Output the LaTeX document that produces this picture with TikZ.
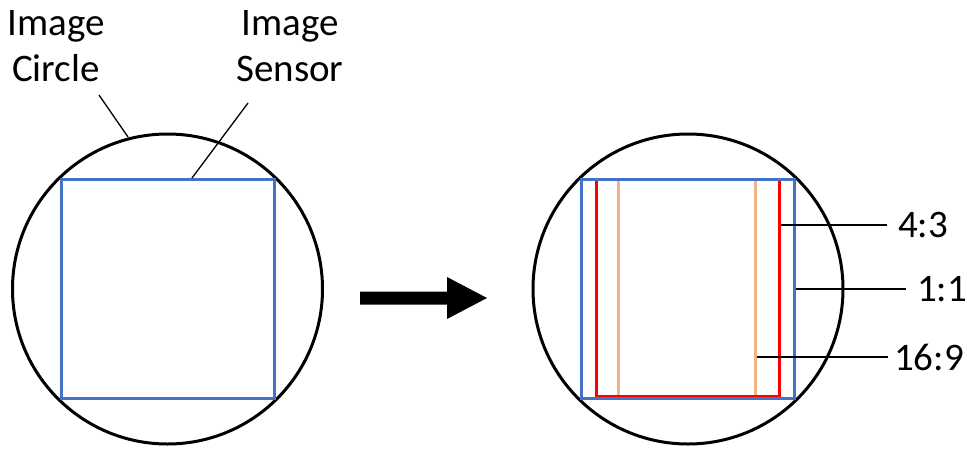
\documentclass[tikz,border=0pt]{standalone}
\usepackage{fontspec}
\setmainfont{Carlito}
\definecolor{sblue}{HTML}{4472C4}
\definecolor{sred}{HTML}{FF0000}
\definecolor{sorange}{HTML}{F4B183}
\begin{document}
\begin{tikzpicture}[x=1pt,y=-1pt,
  lens/.style={circle,draw=black,line width=3pt,minimum size=310pt,inner sep=0pt},
  sensor/.style={rectangle,draw=sblue,line width=3pt,minimum width=213pt,minimum height=219pt,inner sep=0pt},
  leader/.style={draw=black,line width=1.3pt},
  lbl/.style={font=\fontsize{39}{46}\selectfont,inner sep=0pt,align=center},
  rlbl/.style={font=\fontsize{39}{46}\selectfont,inner sep=0pt,anchor=west}]
\useasboundingbox (0,0) rectangle (967,448);
% left
\node[lens] (c1) at (167.5,289) {};
\node[sensor] (s1) at (167.5,288.5) {};
\node[lbl] (lc) at (56,46) {Image\\Circle};
\node[lbl] (ls) at (290,46) {Image\\Sensor};
\coordinate (lcA) at (99,95);
\coordinate (lcB) at (128,137);
\coordinate (lsA) at (248,103);
\coordinate (lsB) at (192,178);
\draw[leader] (lcA) -- (lcB);
\draw[leader] (lsA) -- (lsB);
% arrow
\fill[black] (360,291.5) -- (447,291.5) -- (447,277) -- (487,298) -- (447,319) -- (447,304.5) -- (360,304.5) -- cycle;
% right
\node[lens] (c2) at (688,289) {};
\node[rectangle,draw=sorange,line width=3pt,minimum width=137pt,minimum height=218pt,inner sep=0pt] (r169) at (686.5,288.5) {};
\node[rectangle,draw=sred,line width=3pt,minimum width=183pt,minimum height=217pt,inner sep=0pt] (r43) at (687.5,288) {};
\node[sensor] (s2) at (688,288.5) {};
\coordinate (e43) at (887,225);
\coordinate (e11) at (906,289);
\coordinate (e169) at (888,357);
\node[rlbl] (l43) at (898,225) {4:3};
\node[rlbl] (l11) at (917,289) {1:1};
\node[rlbl] (l169) at (894,357) {16:9};
\draw[leader] (r43.east |- e43) -- (e43);
\draw[leader] (s2.east |- e11) -- (e11);
\draw[leader] (r169.east |- e169) -- (e169);
\end{tikzpicture}
\end{document}
